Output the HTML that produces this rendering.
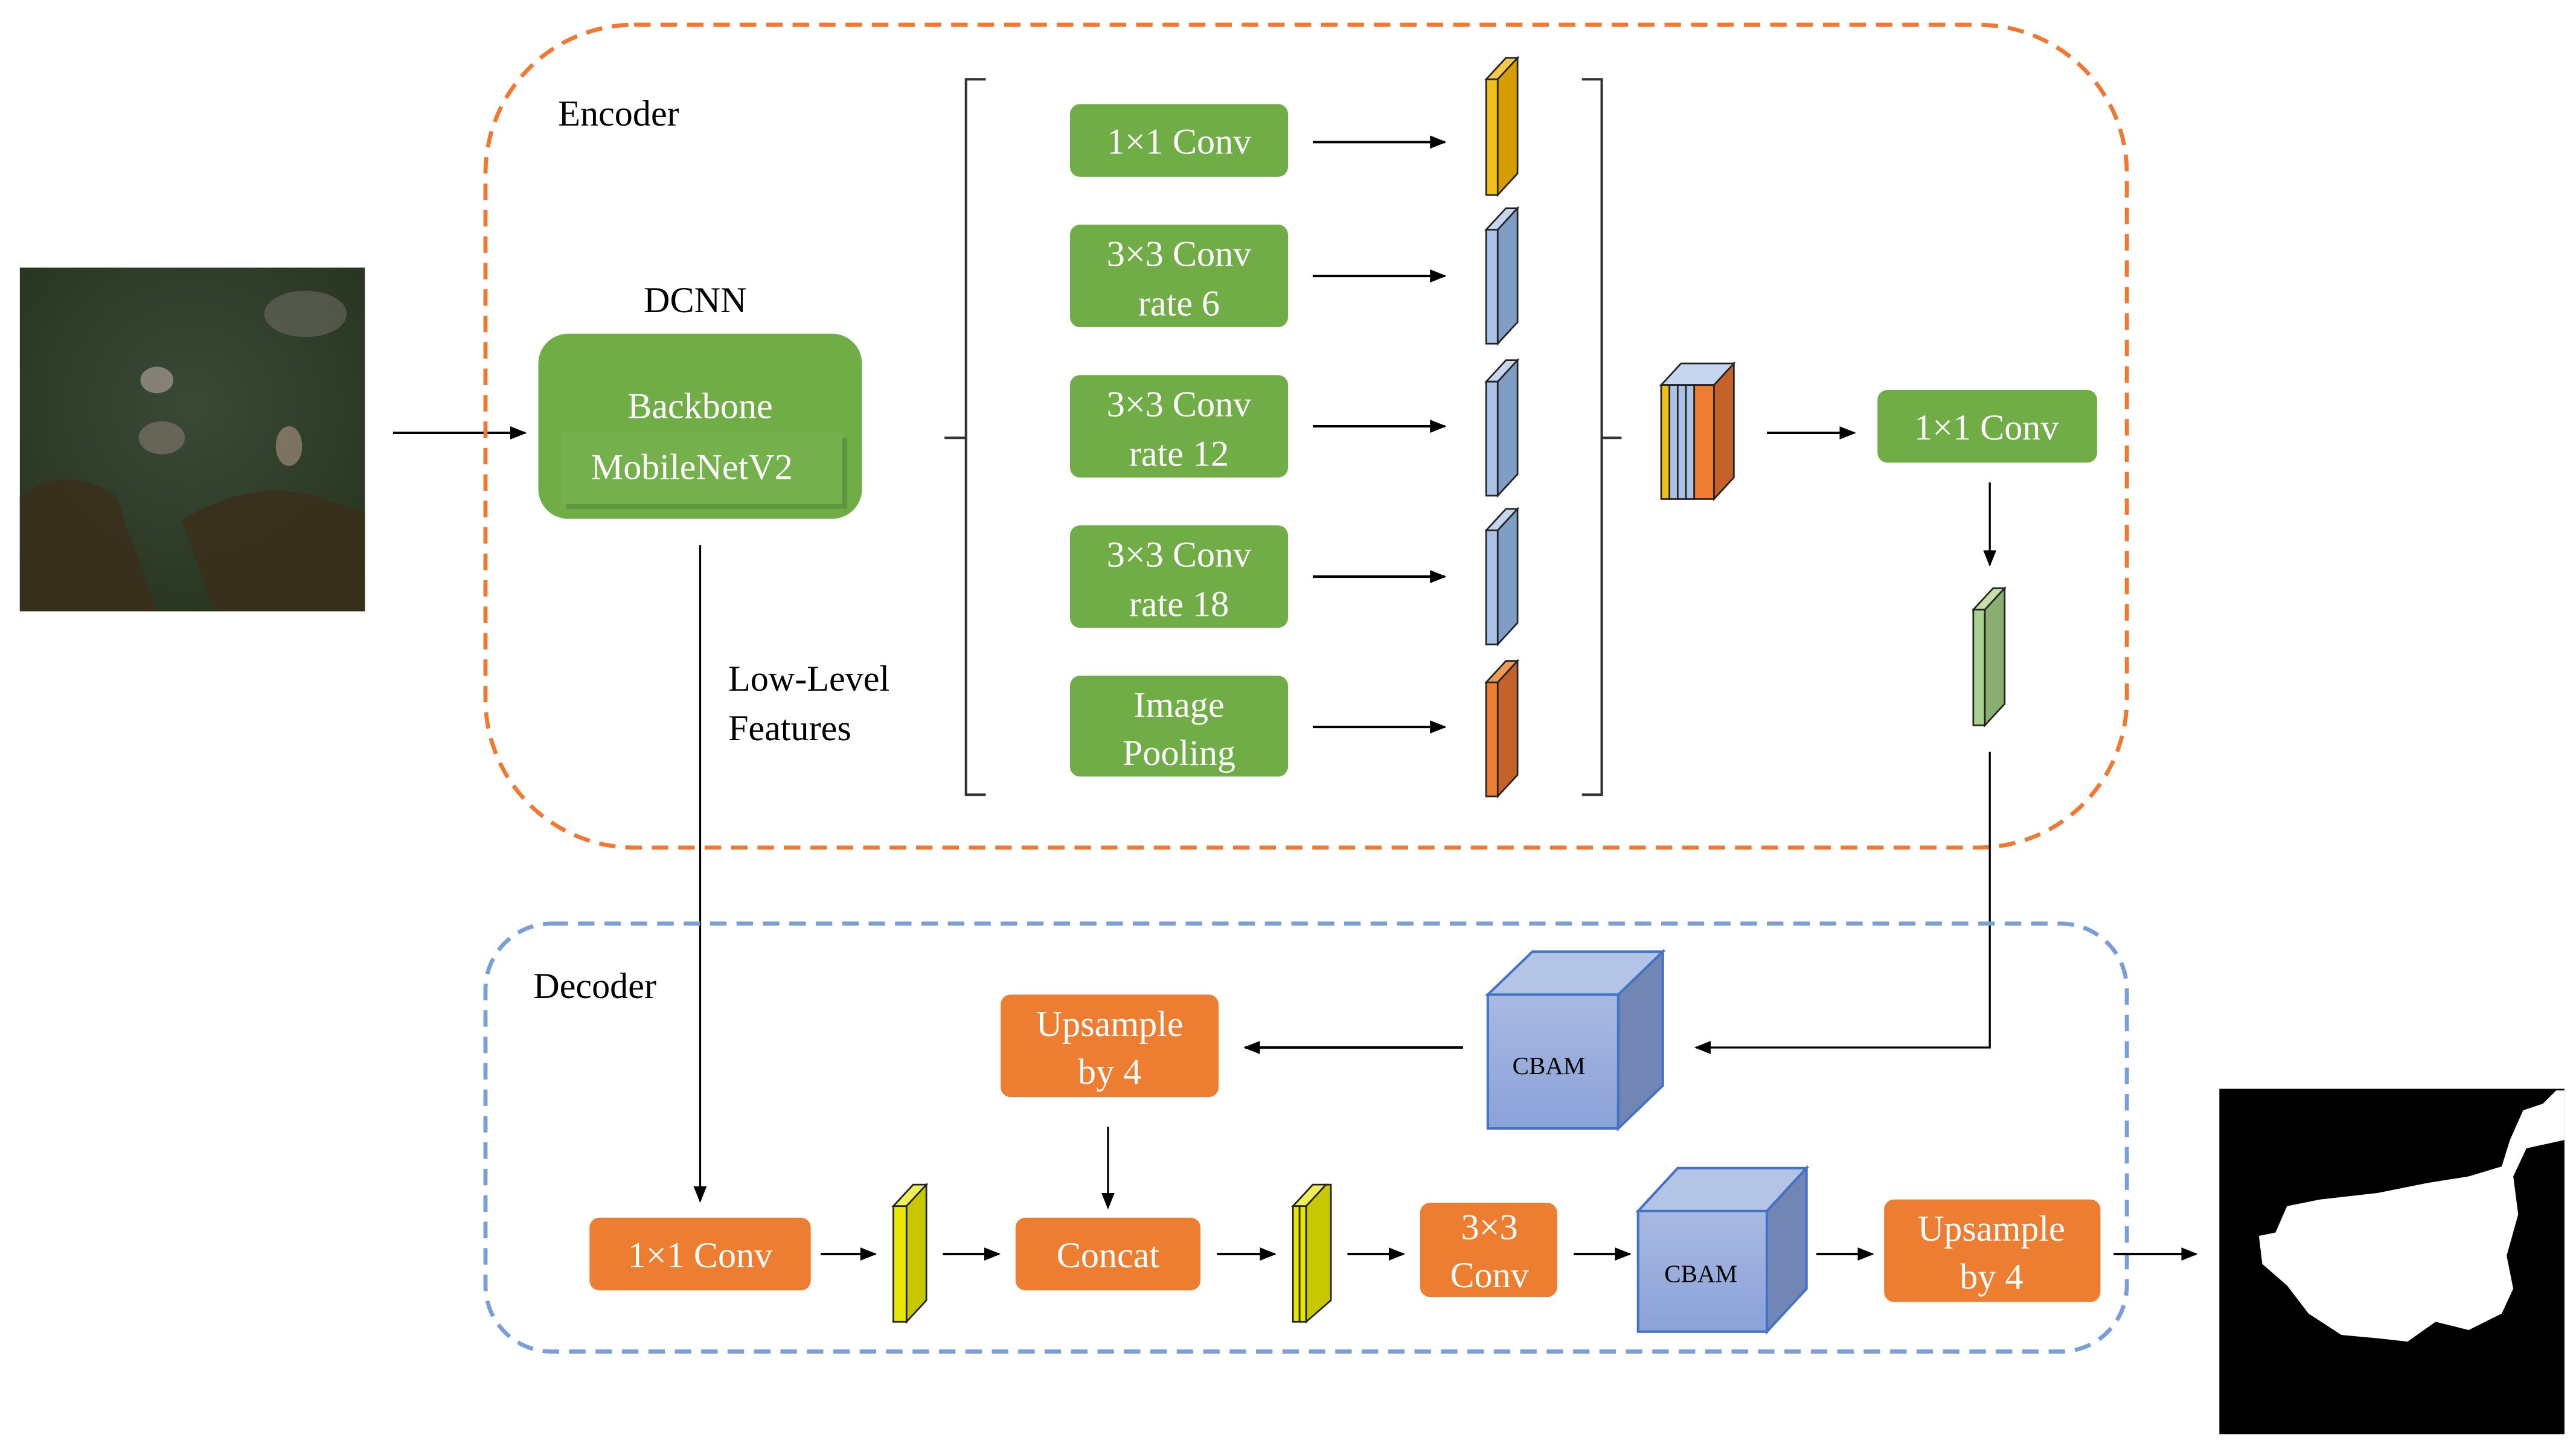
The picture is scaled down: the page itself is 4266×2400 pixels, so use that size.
<!DOCTYPE html>
<html><head><meta charset="utf-8"><style>
html,body{margin:0;padding:0;background:#fff;}
svg{display:block;}
text{font-family:"Liberation Serif",serif;}
</style></head><body>
<svg width="4266" height="2400" viewBox="0 0 1560 877" preserveAspectRatio="none" xmlns="http://www.w3.org/2000/svg">
<defs>
<marker id="ar" markerWidth="10" markerHeight="10" refX="9" refY="5" orient="auto" markerUnits="userSpaceOnUse">
<path d="M0,1 L10,5 L0,9 Z" fill="#000"/></marker>
<linearGradient id="cb" x1="0" y1="0" x2="0" y2="1"><stop offset="0" stop-color="#a9b9e2"/><stop offset="1" stop-color="#8aa2d8"/></linearGradient>
<radialGradient id="img" cx="0.5" cy="0.4" r="0.7"><stop offset="0" stop-color="#3a4a36"/><stop offset="1" stop-color="#26331f"/></radialGradient>
</defs>
<!-- input image -->
<rect x="12" y="162" width="209" height="208" fill="url(#img)"/>
<path d="M12,300 Q40,280 70,300 L95,370 L12,370 Z" fill="#3b2f1c" opacity="0.85"/>
<path d="M110,315 Q150,290 190,300 L221,310 L221,370 L130,370 Z" fill="#3b2f1c" opacity="0.85"/>
<ellipse cx="95" cy="230" rx="10" ry="8" fill="#9a8e88" opacity="0.8"/>
<ellipse cx="98" cy="265" rx="14" ry="10" fill="#7a7268" opacity="0.7"/>
<ellipse cx="175" cy="270" rx="8" ry="12" fill="#8f7f70" opacity="0.8"/>
<ellipse cx="185" cy="190" rx="25" ry="14" fill="#6d6a60" opacity="0.6"/>
<line x1="238" y1="262" x2="318" y2="262" stroke="#000" stroke-width="1.5" marker-end="url(#ar)"/>
<!-- encoder box -->
<rect x="294" y="15" width="994" height="498" rx="90" fill="none" stroke="#F07830" stroke-width="2.5" stroke-dasharray="10 6"/>
<text x="338" y="76" font-size="22">Encoder</text>
<text x="421" y="189" font-size="22" text-anchor="middle">DCNN</text>
<rect x="326" y="202" width="196" height="112" rx="18" fill="#70AD47"/>
<text x="424" y="253" font-size="22" fill="#fff" text-anchor="middle">Backbone</text>
<rect x="343" y="265" width="170" height="43" fill="#4f7f30" opacity="0.5"/>
<rect x="340" y="262" width="170" height="43" fill="#74b04c"/>
<text x="419" y="290" font-size="22" fill="#fff" text-anchor="middle">MobileNetV2</text>
<line x1="424" y1="330" x2="424" y2="727" stroke="#000" stroke-width="1.2" marker-end="url(#ar)"/>
<text x="441" y="418" font-size="22">Low-Level</text>
<text x="441" y="448" font-size="22">Features</text>
<!-- brackets -->
<path d="M597,48 L585,48 L585,265 L572,265 M585,265 L585,481 L597,481" fill="none" stroke="#333" stroke-width="1.5"/>
<path d="M958,48 L970,48 L970,265 L982,265 M970,265 L970,481 L958,481" fill="none" stroke="#333" stroke-width="1.5"/>
<!-- aspp boxes -->
<g fill="#70AD47">
<rect x="648" y="63" width="132" height="44" rx="6"/>
<rect x="648" y="136" width="132" height="62" rx="6"/>
<rect x="648" y="227" width="132" height="62" rx="6"/>
<rect x="648" y="318" width="132" height="62" rx="6"/>
<rect x="648" y="409" width="132" height="61" rx="6"/>
</g>
<g fill="#fff" font-size="22" text-anchor="middle">
<text x="714" y="93">1×1 Conv</text>
<text x="714" y="161">3×3 Conv</text><text x="714" y="191">rate 6</text>
<text x="714" y="252">3×3 Conv</text><text x="714" y="282">rate 12</text>
<text x="714" y="343">3×3 Conv</text><text x="714" y="373">rate 18</text>
<text x="714" y="434">Image</text><text x="714" y="463">Pooling</text>
</g>
<g stroke="#000" stroke-width="1.5">
<line x1="795" y1="86" x2="875" y2="86" marker-end="url(#ar)"/>
<line x1="795" y1="167" x2="875" y2="167" marker-end="url(#ar)"/>
<line x1="795" y1="258" x2="875" y2="258" marker-end="url(#ar)"/>
<line x1="795" y1="349" x2="875" y2="349" marker-end="url(#ar)"/>
<line x1="795" y1="440" x2="875" y2="440" marker-end="url(#ar)"/>
</g>
<!-- slabs -->
<g stroke="#222" stroke-width="1">
<path d="M900,48 L912,35 L919,35 L907,48 Z" fill="#f5c84a"/><rect x="900" y="48" width="7" height="70" fill="#f2bf1a"/><path d="M907,48 L919,35 L919,105 L907,118 Z" fill="#d49e00"/>
<path d="M900,139 L912,126 L919,126 L907,139 Z" fill="#c5d6ee"/><rect x="900" y="139" width="7" height="69" fill="#a9c2e6"/><path d="M907,139 L919,126 L919,195 L907,208 Z" fill="#7f9ec5"/>
<path d="M900,231 L912,218 L919,218 L907,231 Z" fill="#c5d6ee"/><rect x="900" y="231" width="7" height="69" fill="#a9c2e6"/><path d="M907,231 L919,218 L919,287 L907,300 Z" fill="#7f9ec5"/>
<path d="M900,321 L912,308 L919,308 L907,321 Z" fill="#c5d6ee"/><rect x="900" y="321" width="7" height="69" fill="#a9c2e6"/><path d="M907,321 L919,308 L919,377 L907,390 Z" fill="#7f9ec5"/>
<path d="M900,413 L912,400 L919,400 L907,413 Z" fill="#f09a5a"/><rect x="900" y="413" width="7" height="69" fill="#ee7d32"/><path d="M907,413 L919,400 L919,469 L907,482 Z" fill="#c5622a"/>
<!-- stacked -->
<path d="M1006,233 L1018,220 L1050,220 L1038,233 Z" fill="#c5d6ee"/>
<rect x="1006" y="233" width="5" height="69" fill="#f2bf1a"/>
<rect x="1011" y="233" width="5" height="69" fill="#a9c2e6"/>
<rect x="1016" y="233" width="5" height="69" fill="#a9c2e6"/>
<rect x="1021" y="233" width="5" height="69" fill="#a9c2e6"/>
<rect x="1026" y="233" width="12" height="69" fill="#ee7d32"/>
<path d="M1038,233 L1050,220 L1050,289 L1038,302 Z" fill="#c5622a"/>
<!-- green slab -->
<path d="M1195,369 L1207,356 L1214,356 L1202,369 Z" fill="#c4dfa8"/><rect x="1195" y="369" width="7" height="70" fill="#a9d18e"/><path d="M1202,369 L1214,356 L1214,426 L1202,439 Z" fill="#8aad70"/>
</g>
<line x1="1070" y1="262" x2="1123" y2="262" stroke="#000" stroke-width="1.5" marker-end="url(#ar)"/>
<rect x="1137" y="236" width="133" height="44" rx="6" fill="#70AD47"/>
<text x="1203" y="266" font-size="22" fill="#fff" text-anchor="middle">1×1 Conv</text>
<line x1="1205" y1="292" x2="1205" y2="342" stroke="#000" stroke-width="1.2" marker-end="url(#ar)"/>
<path d="M1205,455 L1205,634 L1027,634" fill="none" stroke="#000" stroke-width="1.2" marker-end="url(#ar)"/>
<!-- decoder -->
<rect x="294" y="559" width="994" height="259" rx="40" fill="none" stroke="#7A9ED8" stroke-width="2.5" stroke-dasharray="10 6"/>
<text x="323" y="604" font-size="22">Decoder</text>
<!-- cbam 1 -->
<g stroke="#4472C4" stroke-width="1.5">
<path d="M901,602 L928,576 L1007,576 L980,602 Z" fill="#b4c4e6"/>
<rect x="901" y="602" width="79" height="81" fill="url(#cb)"/>
<path d="M980,602 L1007,576 L1007,657 L980,683 Z" fill="#7186b4"/>
<path d="M992,733 L1016,707 L1094,707 L1070,733 Z" fill="#b4c4e6"/>
<rect x="992" y="733" width="78" height="73" fill="url(#cb)"/>
<path d="M1070,733 L1094,707 L1094,780 L1070,806 Z" fill="#7186b4"/>
</g>
<text x="938" y="650" font-size="15" text-anchor="middle">CBAM</text>
<text x="1030" y="776" font-size="15" text-anchor="middle">CBAM</text>
<line x1="886" y1="634" x2="754" y2="634" stroke="#000" stroke-width="1.5" marker-end="url(#ar)"/>
<g fill="#ED7D31">
<rect x="606" y="602" width="132" height="62" rx="6"/>
<rect x="357" y="737" width="134" height="44" rx="6"/>
<rect x="615" y="737" width="112" height="44" rx="6"/>
<rect x="860" y="728" width="83" height="57" rx="6"/>
<rect x="1141" y="726" width="131" height="62" rx="6"/>
</g>
<g fill="#fff" font-size="22" text-anchor="middle">
<text x="672" y="627">Upsample</text><text x="672" y="656">by 4</text>
<text x="424" y="767">1×1 Conv</text>
<text x="671" y="767">Concat</text>
<text x="902" y="750">3×3</text><text x="902" y="779">Conv</text>
<text x="1206" y="751">Upsample</text><text x="1206" y="780">by 4</text>
</g>
<line x1="671" y1="682" x2="671" y2="731" stroke="#000" stroke-width="1.2" marker-end="url(#ar)"/>
<g stroke="#222" stroke-width="1">
<path d="M541,730 L553,717 L561,717 L549,730 Z" fill="#eef05a"/><rect x="541" y="730" width="8" height="70" fill="#e6e600"/><path d="M549,730 L561,717 L561,787 L549,800 Z" fill="#c8c800"/>
<path d="M783,730 L795,717 L803,717 L791,730 Z" fill="#eef05a"/><rect x="783" y="730" width="4" height="70" fill="#e6e600"/><rect x="787" y="730" width="4" height="70" fill="#e6e600"/><path d="M791,730 L803,717 L806,717 L806,787 L791,800 Z" fill="#c8c800"/>
</g>
<g stroke="#000" stroke-width="1.5">
<line x1="497" y1="759" x2="530" y2="759" marker-end="url(#ar)"/>
<line x1="571" y1="759" x2="605" y2="759" marker-end="url(#ar)"/>
<line x1="737" y1="759" x2="772" y2="759" marker-end="url(#ar)"/>
<line x1="816" y1="759" x2="850" y2="759" marker-end="url(#ar)"/>
<line x1="953" y1="759" x2="987" y2="759" marker-end="url(#ar)"/>
<line x1="1100" y1="759" x2="1134" y2="759" marker-end="url(#ar)"/>
<line x1="1280" y1="759" x2="1330" y2="759" marker-end="url(#ar)"/>
</g>
<!-- output mask -->
<rect x="1344" y="659" width="209" height="209" fill="#000"/>
<path d="M1548,660 L1540,668 L1528,672 L1520,690 L1515,706 L1495,712 L1470,716 L1440,722 L1405,726 L1385,730 L1378,746 L1368,748 L1370,765 L1385,778 L1398,795 L1418,808 L1440,810 L1458,812 L1475,800 L1495,805 L1515,795 L1522,780 L1518,760 L1525,735 L1522,712 L1530,695 L1553,690 L1553,660 Z" fill="#fff"/>
</svg>
</body></html>
